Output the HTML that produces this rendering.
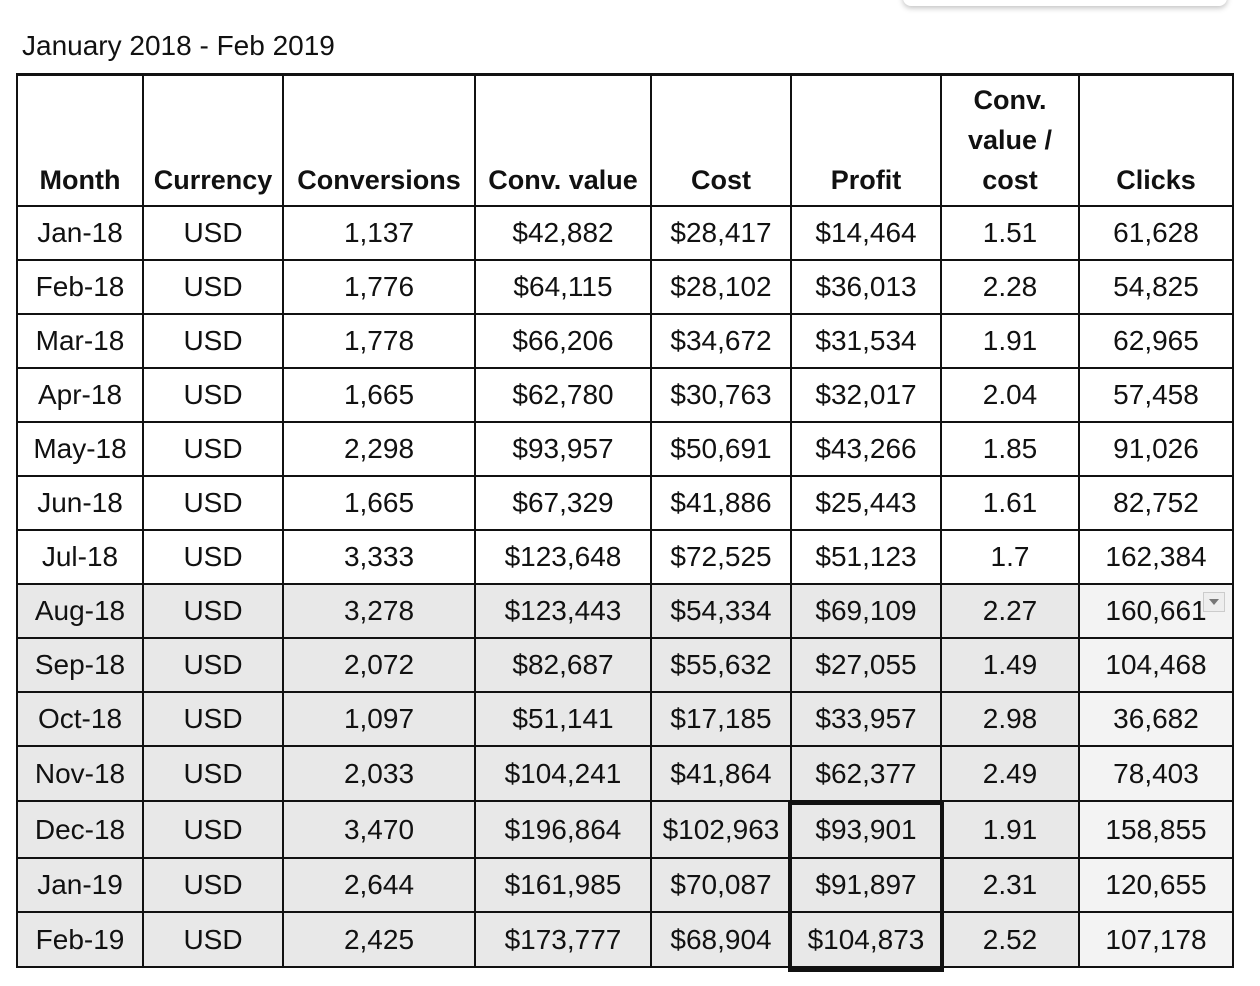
<!DOCTYPE html>
<html><head><style>
html,body{margin:0;padding:0;background:#fff;width:1260px;height:986px;overflow:hidden;position:relative;font-family:"Liberation Sans",Arial,sans-serif;}
.pop{position:absolute;left:903px;top:-20px;width:324px;height:26px;border-radius:8px;background:#fff;box-shadow:0 2px 6px rgba(0,0,0,.25);}
.title{position:absolute;left:22px;top:30px;font-size:28px;color:#111;}
table{position:absolute;left:16px;top:73px;border-collapse:collapse;table-layout:fixed;}
td,th{border:2px solid #111;text-align:center;font-size:28px;color:#111;padding:0;line-height:1;}
th{font-weight:bold;height:124px;vertical-align:bottom;padding-bottom:5px;line-height:40px;font-size:27px;}
tr.h th{border-top:3px solid #111;}
td{height:52px;}
tr.g td{background:#e8e8e8;}
tr.g td.c{background:#f3f3f3;}
.box{position:absolute;left:788px;top:801px;width:148px;height:163px;border:4px solid #111;}
.dd{position:absolute;left:1203px;top:592px;width:20px;height:18px;background:#eee;border:1px solid #ccc;}
.dd:after{content:"";position:absolute;left:5px;top:6px;border-left:5px solid transparent;border-right:5px solid transparent;border-top:6px solid #777;}
</style></head><body>
<div class="pop"></div>
<div class="title">January 2018 - Feb 2019</div>
<table>
<colgroup><col style="width:126px"><col style="width:140px"><col style="width:192px"><col style="width:176px"><col style="width:140px"><col style="width:150px"><col style="width:138px"><col style="width:154px"></colgroup>
<tr class="h"><th>Month</th><th>Currency</th><th>Conversions</th><th>Conv. value</th><th>Cost</th><th>Profit</th><th>Conv.<br>value /<br>cost</th><th>Clicks</th></tr>
<tr><td>Jan-18</td><td>USD</td><td>1,137</td><td>$42,882</td><td>$28,417</td><td>$14,464</td><td>1.51</td><td class="c">61,628</td></tr>
<tr><td>Feb-18</td><td>USD</td><td>1,776</td><td>$64,115</td><td>$28,102</td><td>$36,013</td><td>2.28</td><td class="c">54,825</td></tr>
<tr><td>Mar-18</td><td>USD</td><td>1,778</td><td>$66,206</td><td>$34,672</td><td>$31,534</td><td>1.91</td><td class="c">62,965</td></tr>
<tr><td>Apr-18</td><td>USD</td><td>1,665</td><td>$62,780</td><td>$30,763</td><td>$32,017</td><td>2.04</td><td class="c">57,458</td></tr>
<tr><td>May-18</td><td>USD</td><td>2,298</td><td>$93,957</td><td>$50,691</td><td>$43,266</td><td>1.85</td><td class="c">91,026</td></tr>
<tr><td>Jun-18</td><td>USD</td><td>1,665</td><td>$67,329</td><td>$41,886</td><td>$25,443</td><td>1.61</td><td class="c">82,752</td></tr>
<tr><td>Jul-18</td><td>USD</td><td>3,333</td><td>$123,648</td><td>$72,525</td><td>$51,123</td><td>1.7</td><td class="c">162,384</td></tr>
<tr class="g"><td>Aug-18</td><td>USD</td><td>3,278</td><td>$123,443</td><td>$54,334</td><td>$69,109</td><td>2.27</td><td class="c">160,661</td></tr>
<tr class="g"><td>Sep-18</td><td>USD</td><td>2,072</td><td>$82,687</td><td>$55,632</td><td>$27,055</td><td>1.49</td><td class="c">104,468</td></tr>
<tr class="g"><td>Oct-18</td><td>USD</td><td>1,097</td><td>$51,141</td><td>$17,185</td><td>$33,957</td><td>2.98</td><td class="c">36,682</td></tr>
<tr class="g"><td style="height:53px">Nov-18</td><td>USD</td><td>2,033</td><td>$104,241</td><td>$41,864</td><td>$62,377</td><td>2.49</td><td class="c">78,403</td></tr>
<tr class="g"><td style="height:55px">Dec-18</td><td>USD</td><td>3,470</td><td>$196,864</td><td>$102,963</td><td>$93,901</td><td>1.91</td><td class="c">158,855</td></tr>
<tr class="g"><td>Jan-19</td><td>USD</td><td>2,644</td><td>$161,985</td><td>$70,087</td><td>$91,897</td><td>2.31</td><td class="c">120,655</td></tr>
<tr class="g"><td style="height:53px">Feb-19</td><td>USD</td><td>2,425</td><td>$173,777</td><td>$68,904</td><td>$104,873</td><td>2.52</td><td class="c">107,178</td></tr>
</table>
<div class="box"></div>
<div class="dd"></div>
</body></html>
